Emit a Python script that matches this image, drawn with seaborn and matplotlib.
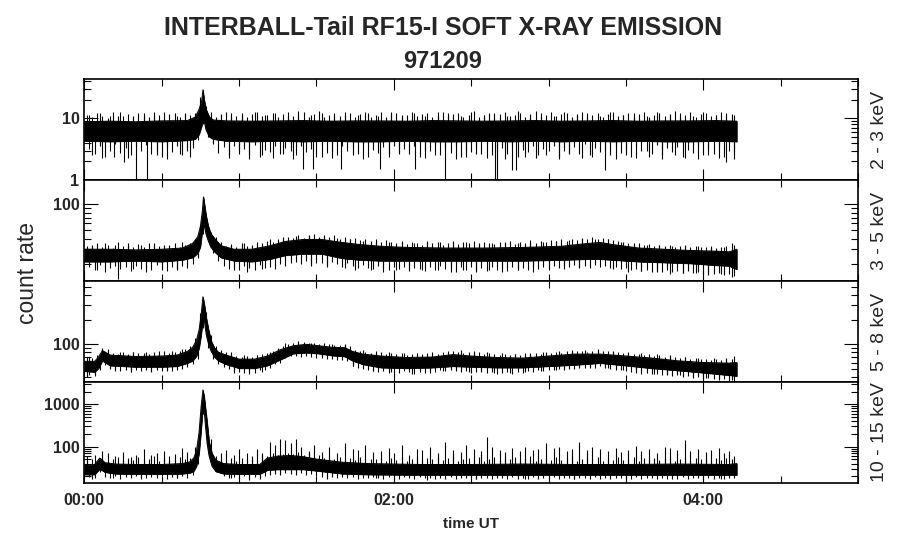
import numpy as np
import pandas as pd
import matplotlib
matplotlib.use("Agg")
import matplotlib.pyplot as plt
import seaborn as sns
from matplotlib.ticker import FixedLocator, LogLocator, FuncFormatter, NullFormatter

# ---------------- data (time in minutes after 00:00 UT) ----------------
FRINGE_UP_T = list(range(1, 253, 2))    # odd minutes: upper noise fringe samples
FRINGE_DN_T = list(range(2, 253, 2))    # even minutes: lower noise fringe samples

# Panel 1: 2 - 3 keV
P1_T = [0, 10, 20, 30, 40, 43, 44.5, 45.5, 46, 46.5, 47.2, 48.5, 50, 55, 65, 75, 85, 95, 105, 115,
        125, 135, 145, 155, 165, 175, 185, 195, 205, 215, 225, 235, 245, 253]
P1_LO = [4.3, 4.2, 4.3, 4.2, 4.4, 4.6, 5.5, 7.5, 10, 9, 6.5, 5, 4.6, 4.3, 4.2, 4.3, 4.2, 4.3, 4.2, 4.2,
         4.3, 4.2, 4.2, 4.3, 4.2, 4.3, 4.2, 4.3, 4.2, 4.3, 4.2, 4.2, 4.3, 4.2]
P1_HI = [8.8, 9.0, 8.8, 9.1, 9.2, 10.5, 14, 19, 29, 20, 14, 10.5, 9.4, 9.1, 9.0, 9.1, 9.2, 9.0, 9.1, 9.1,
         9.0, 9.2, 9.1, 9.0, 9.1, 9.2, 9.0, 9.1, 9.2, 9.0, 9.1, 9.1, 9.2, 9.0]
P1_FR_UP = [11.5, 10.5, 12, 11, 10.2, 12.5, 11, 10.8, 11.8, 10.4, 12.2, 11, 10.6, 12.8, 11.2, 10.3, 11.6, 12.4, 10.7, 11.9,
            11.2, 12, 22, 16, 12.5, 10.4, 11.8, 12.5, 10.6, 11.1, 12.3, 10.5, 11.7, 12.9, 10.8, 11.3, 12.1, 10.4, 11.6, 12.6,
            10.9, 11.4, 12.7, 10.5, 11.8, 13.2, 10.6, 11.2, 12.4, 10.8, 11.5, 12.2, 10.4, 11.9, 12.8, 10.7, 11.3, 12.5, 10.5, 11.7,
            12.1, 10.6, 11.4, 12.9, 10.8, 11.6, 12.3, 10.4, 11.1, 12.7, 10.9, 11.8, 12.2, 10.5, 11.3, 13, 10.7, 11.5, 12.4, 10.6,
            11.9, 12.6, 10.8, 11.2, 12.1, 10.5, 11.7, 13.1, 10.6, 11.4, 12.5, 10.9, 11.6, 12.2, 10.4, 11.8, 12.8, 10.7, 11.3, 12.4,
            10.5, 11.7, 12.9, 10.8, 11.2, 12.3, 10.6, 11.9, 12.6, 10.4, 11.5, 12.1, 10.9, 11.8, 13, 10.7, 11.3, 12.5, 10.5, 11.6,
            12.2, 10.8, 11.4, 12.7, 10.6, 11.9]
P1_FR_DN = [3.2, 2.6, 3.6, 2.4, 3.0, 3.8, 2.7, 3.3, 2.5, 3.5, 2.9, 3.7, 2.6, 3.1, 2.4, 3.4, 2.8, 3.6, 2.5, 3.0,
            3.3, 4.5, 8, 5, 3.8, 2.7, 3.4, 2.5, 3.6, 2.9, 3.2, 2.6, 3.7, 2.4, 3.1, 2.8, 3.5, 2.6, 3.3, 2.9,
            2.5, 3.6, 2.8, 3.2, 2.4, 3.7, 2.7, 3.0, 2.5, 3.5, 2.9, 3.3, 2.6, 3.8, 2.4, 3.1, 2.7, 3.4, 2.5, 3.6,
            2.8, 3.2, 2.6, 3.5, 2.4, 3.0, 2.9, 3.7, 2.5, 3.3, 2.7, 3.6, 2.4, 3.1, 2.8, 3.4, 2.6, 3.8, 2.5, 3.0,
            3.3, 2.6, 3.7, 2.4, 3.1, 2.8, 3.5, 2.5, 3.2, 2.9, 3.6, 2.4, 3.0, 2.7, 3.4, 2.6, 3.8, 2.5, 3.3, 2.8,
            3.1, 2.5, 3.6, 2.7, 3.2, 2.4, 3.5, 2.9, 3.0, 2.6, 3.7, 2.5, 3.3, 2.8, 3.4, 2.4, 3.1, 2.7, 3.6, 2.5,
            3.2, 2.6, 3.5, 2.4, 3.0, 2.8]
P1_PK_T = [2, 6, 10, 14, 19, 23, 27, 31, 36, 39, 53, 57, 61, 66, 70, 74, 79, 83, 88, 92,
           97, 101, 106, 110, 114, 119, 123, 128, 132, 137, 141, 146, 150, 155, 159, 164, 168, 173, 177, 182,
           186, 191, 195, 200, 204, 209, 213, 218, 222, 227, 231, 236, 240, 245, 249, 252]
P1_PK_V = [11.5, 12, 11, 12.5, 11, 12, 11.5, 12.5, 11, 12, 11.5, 12, 11, 12.5, 11.5, 12, 11, 13, 11.5, 12,
           11, 12.5, 11.5, 12, 11, 12.5, 11.5, 12, 11, 12.5, 12, 11, 12.5, 11.5, 12, 11, 13, 11.5, 12, 11,
           12.5, 11.5, 12, 11, 12.5, 11.5, 12, 11, 12.5, 11.5, 12, 11, 12.5, 11.5, 12, 11.5]
P1_DIP_T = [20, 24.4, 84.8, 88.6, 99.5, 114.5, 128.3, 140, 159.3, 160.2, 166, 167.4, 202, 249,
            3, 7, 11.6, 15.5, 17, 28, 32, 37, 41, 56, 60, 64, 69, 73, 77, 81,
            92, 96, 104, 108, 118, 122, 132, 136, 144, 148, 152, 156, 163, 171, 175, 179, 184, 188, 193, 197,
            206, 210, 214, 219, 224, 229, 233, 238, 242, 246, 252]
P1_DIP_V = [1.0, 1.0, 1.5, 1.5, 1.5, 1.5, 1.5, 1.0, 1.0, 1.0, 1.45, 1.45, 1.45, 1.95,
            2.5, 2.3, 2.4, 1.95, 2.3, 2.5, 2.2, 2.6, 2.4, 2.3, 2.6, 2.2, 2.5, 2.3, 2.6, 2.2,
            2.4, 2.3, 2.5, 2.2, 2.4, 2.6, 2.3, 2.5, 2.2, 2.4, 2.6, 2.3, 2.2, 2.4, 2.3, 2.5, 2.2, 2.6, 2.3, 2.4,
            2.2, 2.5, 2.3, 2.4, 2.2, 2.5, 2.3, 2.2, 2.5, 2.3, 2.2]

# Panel 2: 3 - 5 keV
P2_T = [0, 10, 20, 30, 38, 42, 44, 45, 45.8, 46.2, 46.6, 47.2, 48, 49, 50.5, 53, 58, 65, 72, 78,
        85, 92, 100, 107, 115, 125, 140, 155, 170, 185, 195, 200, 205, 215, 225, 235, 245, 250, 253]
P2_LO = [21.5, 21.5, 22, 21.5, 22.5, 24, 27, 32, 50, 62, 55, 45, 38, 32, 28, 24, 22, 21.5, 23, 25.5,
         26.5, 26.5, 23.5, 22.5, 22, 22, 22, 22, 22, 22.5, 23, 23, 22.5, 21.5, 21, 20.5, 19.5, 19.2, 17.5]
P2_HI = [30, 30, 29.5, 30, 31, 35, 42, 55, 85, 122, 100, 75, 57, 46, 40, 33, 30, 30, 33, 37,
         39, 39, 36, 34, 32.5, 31.5, 31, 31, 31.5, 32.5, 35, 36, 34, 31, 30, 29, 28.5, 28, 30]
P2_FR_UP = [33, 31.5, 35, 32, 34, 31, 36, 32.5, 33.5, 31.5, 34.5, 32, 35.5, 31.5, 33, 34, 32, 35, 31.5, 33.5,
            35, 40, 58, 70, 48, 42, 36, 33, 34.5, 32, 35, 33, 34, 32.5, 35.5, 37, 36, 40, 38.5, 42,
            41, 44, 40.5, 43, 45, 41.5, 43.5, 42, 44.5, 40, 42, 39.5, 41, 38, 40, 37.5, 39, 36.5, 38, 36,
            35, 37, 34.5, 36, 35.5, 34, 37, 35, 36.5, 34, 35.5, 37, 34.5, 36, 35, 37.5, 34, 36, 35.5, 34.5,
            36, 35, 37, 34.5, 36.5, 35, 38, 35.5, 37, 36, 38.5, 37, 39, 37.5, 40, 38.5, 41, 39, 42, 40,
            40.5, 39, 38, 37, 36, 35.5, 34, 35, 33.5, 34.5, 33, 34, 32.5, 33.5, 32, 33, 32.5, 31.5, 33, 32,
            31.5, 32.5, 31, 32, 33, 35]
P2_FR_DN = [18.5, 17, 19.5, 16.5, 18, 19, 17.5, 18.5, 16.8, 19.2, 17.8, 18.2, 17, 19.5, 18, 16.8, 18.8, 17.4, 19, 18,
            20, 24, 45, 40, 27, 22, 19, 17.5, 18.5, 17, 19, 18, 17.2, 19.5, 18.2, 18.8, 17.5, 20, 19, 21,
            21.5, 20, 22, 19.5, 21, 20.5, 19, 21.5, 20, 18.5, 20.5, 19, 18, 19.5, 18.2, 17.5, 19, 18, 17, 18.5,
            17.5, 18.8, 17, 18.2, 17.8, 16.8, 18.5, 17.2, 19, 17.6, 18, 16.5, 18.4, 17.3, 18.8, 17, 18.2, 16.9, 18.6, 17.4,
            18, 16.8, 18.5, 17.4, 18.2, 17, 18.8, 17.5, 18.4, 17.8, 19, 18, 19.2, 18.4, 19.5, 18.6, 19, 18.2, 19.4, 18.5,
            19, 18, 18.4, 17.5, 18, 17, 17.6, 16.8, 17.4, 16.5, 17.2, 16.2, 17, 16.5, 16.8, 16, 16.6, 15.8, 16.4, 15.6,
            16, 15.5, 15.8, 15.2, 15.5, 14.5]
P2_PK_T = [3, 8, 12, 17, 22, 27, 33, 38, 57, 62, 67, 72, 77, 82, 87, 93, 98, 103, 108, 113,
           118, 123, 128, 133, 138, 143, 148, 153, 158, 163, 168, 173, 178, 183, 188, 193, 198, 203, 208, 213,
           218, 223, 228, 233, 238, 243, 248, 252]
P2_PK_V = [34, 35, 33.5, 35, 34, 35.5, 34, 36, 34, 35, 36, 39, 42, 43, 44, 43, 41, 39, 37, 36,
           36, 35, 35.5, 35, 36, 35, 36, 35, 35.5, 36, 35, 36, 36.5, 37, 38, 39, 40, 39, 36, 35,
           34, 34, 33, 33.5, 32.5, 32, 32, 34]
P2_DIP_T = [5, 13, 19, 24, 30, 36, 58, 63, 69, 88, 94, 101, 105, 111, 116, 121, 126, 131, 137, 142,
            147, 152, 157, 162, 168, 174, 180, 186, 192, 205, 211, 216, 222, 227, 232, 237, 242, 247, 251]
P2_DIP_V = [17, 13.5, 17.5, 16.5, 17, 17.5, 17, 16.5, 17.5, 19, 18.5, 18, 17, 17, 16.5, 17, 16.8, 17.2, 17, 16.5,
            17, 16.5, 17, 16.3, 17, 16.5, 17, 17.5, 18, 17.5, 16.5, 16.8, 16.5, 15.5, 16, 15.8, 15, 15.5, 14.4]

# Panel 3: 5 - 8 keV
P3_T = [0, 4, 5.5, 7, 10, 20, 30, 36, 40, 42, 43.5, 44.5, 45.3, 46, 46.6, 47.3, 48.2, 49.2, 50.5, 52,
        55, 60, 66, 71, 76, 81, 86, 91, 96, 101, 104, 108, 115, 125, 135, 143, 150, 160, 170, 180,
        190, 200, 210, 220, 230, 240, 250, 253]
P3_LO = [47, 46, 51, 63, 55, 53, 53, 54, 59, 63, 72, 90, 130, 200, 190, 130, 100, 82, 70, 63,
         57, 51, 51, 55, 65, 77, 79, 77, 73, 71, 63, 57, 52, 51, 52, 54, 53, 52, 52, 54,
         56, 59, 55, 51, 48, 45, 42, 41]
P3_HI = [62, 62, 70, 84, 74, 71, 72, 74, 82, 92, 112, 150, 230, 380, 300, 210, 150, 110, 90, 80,
         74, 66, 66, 72, 86, 96, 100, 96, 92, 91, 82, 76, 72, 69, 70, 75, 72, 69, 68, 72,
         76, 76, 72, 68, 63, 60, 59, 60]
P3_FR_UP = [70, 68, 75, 90, 82, 79, 77, 80, 76, 81, 78, 79, 77, 80, 76, 82, 78, 80, 83, 88,
            95, 120, 240, 250, 130, 95, 86, 80, 76, 72, 70, 73, 71, 74, 76, 78, 82, 90, 96, 102,
            104, 103, 107, 105, 103, 102, 104, 100, 99, 97, 99, 96, 86, 84, 80, 79, 78, 80, 77, 79,
            76, 78, 75, 77, 79, 76, 78, 75, 77, 80, 78, 82, 80, 79, 81, 78, 80, 77, 79, 76,
            75, 77, 74, 76, 75, 78, 76, 79, 77, 80, 78, 81, 79, 83, 80, 82, 84, 81, 83, 85,
            82, 83, 80, 81, 78, 79, 76, 77, 75, 76, 73, 74, 71, 72, 70, 69, 70, 67, 68, 66,
            67, 65, 66, 64, 65, 67]
P3_FR_DN = [42, 44, 48, 56, 50, 48, 47, 49, 46, 48, 47, 49, 46, 48, 47, 49, 47, 48, 50, 53,
            57, 66, 160, 90, 66, 58, 53, 50, 47, 46, 45, 46, 45, 48, 49, 52, 58, 60, 68, 72,
            72, 70, 73, 71, 68, 70, 67, 66, 64, 65, 63, 55, 52, 50, 48, 47, 46, 47, 45, 46,
            45, 47, 46, 44, 46, 45, 47, 46, 48, 47, 49, 48, 46, 47, 45, 46, 47, 45, 46, 44,
            45, 46, 44, 46, 45, 47, 46, 48, 47, 49, 48, 50, 49, 51, 50, 52, 51, 53, 52, 54,
            51, 50, 48, 49, 47, 46, 45, 44, 45, 43, 44, 42, 43, 41, 42, 40, 41, 39, 40, 38,
            39, 38, 37, 38, 36, 36]
P3_PK_T = [2, 9, 14, 19, 24, 29, 34, 38, 57, 62, 67, 72, 78, 83, 88, 96, 101, 108, 113, 118,
           124, 129, 135, 141, 146, 151, 156, 162, 167, 173, 178, 184, 189, 194, 199, 205, 211, 216, 222, 227,
           233, 238, 244, 249, 252]
P3_PK_V = [70, 88, 80, 80, 81, 82, 84, 88, 80, 74, 75, 80, 104, 110, 105, 100, 100, 86, 82, 80,
           79, 77, 80, 84, 85, 82, 80, 79, 77, 78, 80, 82, 86, 86, 87, 84, 80, 78, 77, 74,
           70, 69, 68, 68, 72]
P3_DIP_T = [1, 4, 12, 18, 26, 32, 58, 64, 69, 92, 104, 112, 119, 127, 134, 139, 144, 149, 154, 159,
            165, 171, 177, 183, 188, 196, 203, 209, 214, 221, 226, 231, 236, 241, 246, 251]
P3_DIP_V = [40, 41, 47, 46, 47, 47, 45, 44, 46, 68, 54, 47, 46, 44, 45, 47, 47, 46, 46, 45,
            45, 46, 47, 48, 50, 52, 51, 48, 46, 44, 42, 42, 40, 39, 38, 37]

# Panel 4: 10 - 15 keV
P4_T = [0, 4, 6, 8, 12, 20, 30, 38, 41, 42.5, 43.5, 44.5, 45.3, 46, 46.5, 47, 47.6, 48.4, 49.5, 51,
        54, 60, 68, 71, 75, 80, 85, 90, 100, 110, 130, 150, 170, 190, 210, 230, 250, 253]
P4_LO = [22, 22, 30, 25, 23, 22.5, 22.5, 23, 24, 27, 35, 70, 250, 900, 700, 300, 120, 60, 35, 26,
         23, 22.5, 22.5, 28, 29, 29, 29, 27, 23, 22, 21.5, 21.5, 21.5, 21.5, 21.5, 21.5, 21.5, 21.5]
P4_HI = [36, 38, 54, 42, 39, 38, 38, 40, 44, 55, 80, 220, 900, 2180, 1510, 800, 390, 130, 70, 48,
         40, 38, 38, 54, 60, 62, 58, 51, 43, 40, 38, 38, 39, 38, 38, 39, 38, 40]
P4_FR_UP = [48, 52, 45, 55, 47, 50, 58, 46, 53, 49, 56, 47, 51, 60, 45, 54, 48, 52, 57, 50,
            55, 70, 300, 600, 150, 60, 52, 48, 55, 47, 53, 50, 58, 46, 65, 60, 70, 62, 68, 72,
            66, 75, 62, 70, 58, 65, 55, 60, 52, 57, 50, 54, 48, 56, 47, 52, 50, 55, 46, 53,
            49, 56, 47, 52, 58, 46, 54, 50, 57, 48, 53, 60, 47, 51, 55, 49, 58, 46, 52, 56,
            48, 54, 50, 57, 47, 53, 59, 46, 51, 55, 49, 56, 48, 53, 60, 47, 52, 55, 50, 57,
            46, 53, 49, 56, 48, 52, 58, 47, 54, 50, 55, 48, 53, 57, 46, 51, 56, 49, 54, 50,
            52, 47, 55, 49, 53, 50]
P4_FR_DN = [19, 18, 25, 19.5, 18.5, 20, 17.5, 19, 18.2, 20, 18.8, 17.8, 19.5, 18.4, 20, 17.6, 19.2, 18.6, 19.8, 18,
            21, 40, 600, 200, 45, 26, 20, 18.5, 19.5, 18, 20, 18.8, 19.2, 17.5, 19.8, 21, 23, 22, 24, 23,
            22, 23.5, 21, 22.5, 20, 19, 18.5, 19.5, 17.8, 18.8, 18, 19.2, 17.5, 18.6, 17.8, 19, 18.2, 17.4, 18.8, 18,
            17.6, 18.8, 18, 17.2, 19, 17.8, 18.4, 17, 18.6, 17.7, 18.9, 17.3, 18.3, 17.8, 19.1, 17.5, 18.5, 17.9, 17.2, 18.7,
            18.1, 17.4, 18.8, 17.7, 18.3, 17.1, 18.9, 17.6, 18.2, 17.8, 19, 17.3, 18.5, 17.9, 17.2, 18.6, 18, 17.5, 18.8, 17.7,
            18.3, 17.2, 18.7, 17.8, 18.1, 17.4, 19, 17.6, 18.4, 17.9, 17.1, 18.6, 17.7, 18.2, 17.3, 18.9, 17.6, 18.4, 17.8, 17.3,
            18.5, 17.7, 18.1, 17.4, 18.6, 17.9]
P4_PK_T = [1, 4, 7, 9, 12, 15, 18, 20, 23, 26, 28, 31, 33, 35, 38, 40, 43, 53, 55, 58,
           60, 63, 65, 67, 69, 72, 74, 76, 78, 80, 82, 84, 87, 89, 92, 95, 98, 101, 104, 106,
           109, 112, 115, 118, 120, 123, 126, 129, 131, 134, 137, 140, 143, 146, 148, 151, 154, 156, 158, 161,
           163, 166, 169, 171, 174, 176, 179, 182, 184, 187, 189, 192, 195, 197, 200, 203, 206, 208, 211, 214,
           216, 219, 222, 225, 227, 230, 233, 235, 238, 241, 243, 246, 248, 250, 252]
P4_PK_V = [60, 65, 80, 70, 60, 75, 58, 65, 90, 62, 70, 80, 60, 68, 95, 75, 100, 70, 85, 62,
           90, 72, 60, 88, 70, 130, 110, 150, 140, 120, 155, 100, 80, 110, 75, 100, 70, 120, 90, 85,
           110, 75, 80, 95, 70, 110, 65, 90, 85, 100, 70, 130, 85, 75, 110, 90, 80, 165, 100, 85,
           75, 95, 80, 100, 85, 90, 120, 95, 100, 80, 90, 130, 85, 100, 90, 80, 95, 75, 85, 105,
           80, 90, 70, 100, 95, 85, 140, 80, 90, 75, 85, 95, 70, 80, 60]
P4_DIP_T = [3, 11, 22, 36, 57, 64, 94, 113, 133, 152, 171, 190, 210, 228, 247]
P4_DIP_V = [17, 18, 17, 18, 18, 16, 17, 18, 16.5, 17, 17.5, 17, 17.5, 17, 17.5]

PANELS = [
    dict(t=P1_T, lo=P1_LO, hi=P1_HI, fu=P1_FR_UP, fd=P1_FR_DN,
         spikes=[(P1_PK_T, P1_PK_V), (P1_DIP_T, P1_DIP_V)], ylim=(1.0, 42.6), label="2 - 3 keV"),
    dict(t=P2_T, lo=P2_LO, hi=P2_HI, fu=P2_FR_UP, fd=P2_FR_DN,
         spikes=[(P2_PK_T, P2_PK_V), (P2_DIP_T, P2_DIP_V)], ylim=(12.8, 192), label="3 - 5 keV"),
    dict(t=P3_T, lo=P3_LO, hi=P3_HI, fu=P3_FR_UP, fd=P3_FR_DN,
         spikes=[(P3_PK_T, P3_PK_V), (P3_DIP_T, P3_DIP_V)], ylim=(34.7, 592), label="5 - 8 keV"),
    dict(t=P4_T, lo=P4_LO, hi=P4_HI, fu=P4_FR_UP, fd=P4_FR_DN,
         spikes=[(P4_PK_T, P4_PK_V), (P4_DIP_T, P4_DIP_V)], ylim=(13.9, 3360), label="10 - 15 keV"),
]

TITLE1 = "INTERBALL-Tail RF15-I SOFT X-RAY EMISSION"
TITLE2 = "971209"
XTICK_HOURS = [0, 2, 4]
XTICK_LABELS = ["00:00", "02:00", "04:00"]

# ---------------- drawing ----------------
sns.set_style("ticks")
plt.rcParams["font.family"] = ["Liberation Sans", "DejaVu Sans"]
plt.rcParams["axes.linewidth"] = 1.2

W, H = 900, 548
fig = plt.figure(figsize=(W / 100, H / 100), dpi=100)
L_PX, R_PX = 84.3, 858.0
BOUNDS = [(79.5, 180), (180, 281), (281, 382), (382, 483)]

axes = []
for i, (p, (top, bot)) in enumerate(zip(PANELS, BOUNDS)):
    ax = fig.add_axes([L_PX / W, 1 - bot / H, (R_PX - L_PX) / W, (bot - top) / H])
    axes.append(ax)
    df = pd.DataFrame({"t": np.array(p["t"]) / 60.0, "lo": p["lo"], "hi": p["hi"]})
    ax.set_yscale("log")
    ax.fill_between(df["t"], df["lo"], df["hi"], color="black", lw=0.5)
    sns.lineplot(data=df, x="t", y="hi", ax=ax, color="black", lw=0.7, estimator=None, legend=False)
    sns.lineplot(data=df, x="t", y="lo", ax=ax, color="black", lw=0.7, estimator=None, legend=False)
    mid = np.sqrt(df["lo"].values * df["hi"].values)
    spike_sets = [(FRINGE_UP_T, p["fu"]), (FRINGE_DN_T, p["fd"])] + p["spikes"]
    for st, sv in spike_sets:
        th = np.array(st) / 60.0
        base = np.interp(th, df["t"].values, mid)
        ax.vlines(th, base, sv, color="black", lw=0.8)

    ax.set_xlim(0, 5)
    ax.set_ylim(*p["ylim"])
    ax.set_xlabel("")
    ax.set_ylabel("")
    ax.yaxis.set_major_locator(LogLocator(base=10, numticks=10))
    ax.yaxis.set_minor_locator(LogLocator(base=10, subs=np.arange(2, 10), numticks=20))
    ax.yaxis.set_major_formatter(FuncFormatter(lambda v, pos: f"{v:g}"))
    ax.yaxis.set_minor_formatter(NullFormatter())
    ax.xaxis.set_major_locator(FixedLocator(XTICK_HOURS))
    ax.xaxis.set_minor_locator(FixedLocator(np.arange(0, 5.01, 0.5)))
    ax.tick_params(axis="both", which="both", direction="in", top=True, right=True, color="black")
    ax.tick_params(axis="y", which="major", length=10, width=0.8, pad=3.5, labelsize=11.5)
    ax.tick_params(axis="y", which="minor", length=5, width=0.8)
    ax.tick_params(axis="x", which="major", length=8, width=0.8, pad=7, labelsize=11.5)
    ax.tick_params(axis="x", which="minor", length=5, width=0.8)
    for lab in ax.get_yticklabels():
        lab.set_fontweight("bold")
    ax.text(1.0284, 0.5, p["label"], transform=ax.transAxes, rotation=90,
            ha="center", va="center", fontsize=14)
    for s in ax.spines.values():
        s.set_visible(True)
        s.set_color("black")
    if i < 3:
        ax.tick_params(labelbottom=False)

axb = axes[-1]
axb.set_xticks(XTICK_HOURS)
axb.set_xticklabels(XTICK_LABELS, fontweight="bold")
axb.set_xlabel("time UT", fontsize=11, fontweight="bold", labelpad=7)

fig.text(443 / W, 1 - 28 / H, TITLE1, ha="center", va="center", fontsize=18, fontweight="bold")
fig.text(443 / W, 1 - 61 / H, TITLE2, ha="center", va="center", fontsize=17, fontweight="bold")
fig.text(27 / W, 1 - 273 / H, "count rate", rotation=90, ha="center", va="center", fontsize=16.5)

fig.savefig("out.png", dpi=100, facecolor="white")
